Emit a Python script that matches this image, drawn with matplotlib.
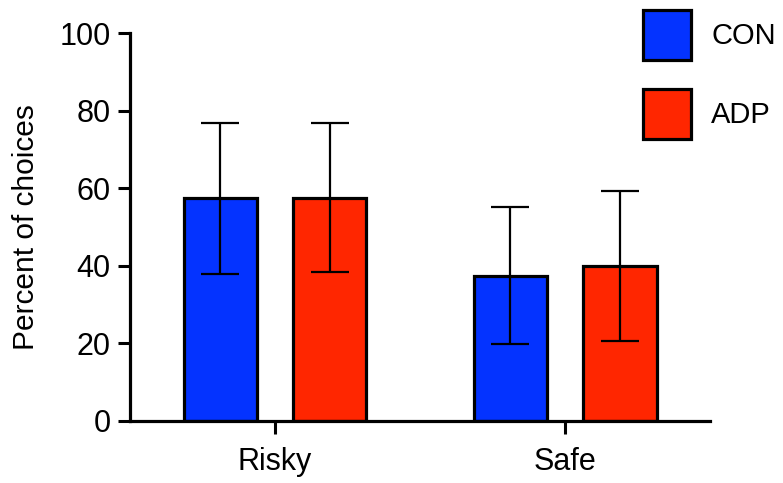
import matplotlib
matplotlib.use("Agg")
import matplotlib.pyplot as plt
import numpy as np
from matplotlib.patches import Patch

plt.rcParams['font.family'] = ['Liberation Sans', 'DejaVu Sans']

categories = ["Risky", "Safe"]
groups = ["CON", "ADP"]
con_mean = [57.4, 37.5]
con_sd = [19.4, 17.6]
adp_mean = [57.6, 40.0]
adp_sd = [19.2, 19.3]
colors = {"CON": "#0433FF", "ADP": "#FF2600"}

fig = plt.figure(figsize=(7.83, 4.83), dpi=100)
ax = fig.add_axes([0.166, 0.1284, 0.741, 0.803])

x = np.arange(len(categories))
offset = 0.1886
width = 0.253
for means, sds, name, off in [(con_mean, con_sd, "CON", -offset), (adp_mean, adp_sd, "ADP", offset)]:
    ax.bar(x + off, means, width=width, color=colors[name], edgecolor="black",
           linewidth=2.3, zorder=2, label=name)
    ax.errorbar(x + off, means, yerr=sds, fmt="none", ecolor="black",
                elinewidth=1.6, capsize=13.7, capthick=1.6, zorder=3)

ax.set_xlim(-0.5, 1.5)
ax.set_ylim(0, 100)
ax.set_yticks([0, 20, 40, 60, 80, 100])
ax.set_xticks(x)
ax.set_xticklabels(categories)
ax.set_ylabel("Percent of choices", fontsize=21.5, labelpad=14)
ax.tick_params(axis="both", labelsize=22, width=2.2, length=9, direction="out")
ax.tick_params(axis="x", pad=10)
ax.tick_params(axis="y", pad=5)
for s in ["top", "right"]:
    ax.spines[s].set_visible(False)
for s in ["left", "bottom"]:
    ax.spines[s].set_linewidth(2.3)

handles = [Patch(facecolor=colors[g], edgecolor="black", linewidth=2.3, label=g) for g in groups]
fig.legend(handles=handles, loc="upper left", bbox_to_anchor=(643 / 783, 1 - 10 / 483),
           frameon=False, fontsize=21, handlelength=1.65, handleheight=2.26,
           handletextpad=0.69, labelspacing=1.0, borderpad=0, borderaxespad=0)

fig.savefig("out.png", dpi=100)
